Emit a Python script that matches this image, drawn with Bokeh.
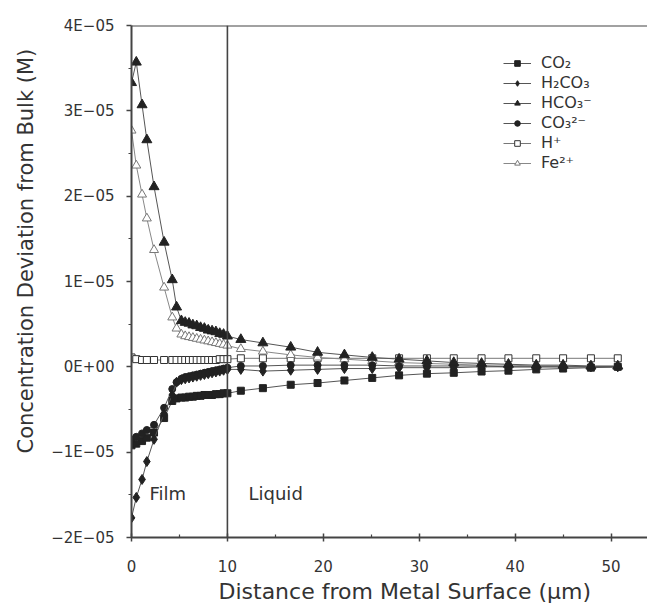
from bokeh.plotting import figure
from bokeh.models import (Range1d, FixedTicker, CustomJSTickFormatter, Span, Label,
                          Legend, LegendItem, Title)
from bokeh.embed import file_html
from bokeh.resources import INLINE

# Distance from the metal surface (um): fine grid inside the film, coarser in the liquid
distance = [0.0, 0.5, 1.1, 1.6, 2.35, 3.4, 4.25, 4.7, 5.2, 5.6, 6.0, 6.4, 6.8, 7.2,
            7.6, 8.0, 8.4, 8.8, 9.2, 9.6, 10.0,
            11.4, 13.7, 16.6, 19.4, 22.2, 25.1, 27.9, 30.8, 33.6, 36.5, 39.3, 42.2,
            45.0, 47.9, 50.7]

# Concentration deviation from bulk (M)
co2 = [-0.92e-5, -0.90e-5, -0.87e-5, -0.83e-5, -0.77e-5, -0.60e-5, -0.40e-5, -0.37e-5,
       -0.36e-5, -0.36e-5, -0.35e-5, -0.35e-5, -0.34e-5, -0.34e-5, -0.33e-5, -0.33e-5,
       -0.33e-5, -0.32e-5, -0.32e-5, -0.31e-5, -0.31e-5,
       -0.28e-5, -0.25e-5, -0.21e-5, -0.19e-5, -0.16e-5, -0.13e-5, -0.10e-5, -0.08e-5,
       -0.07e-5, -0.055e-5, -0.045e-5, -0.03e-5, -0.02e-5, -0.01e-5, 0.0]

h2co3 = [-1.77e-5, -1.53e-5, -1.32e-5, -1.11e-5, -0.85e-5, -0.55e-5, -0.33e-5, -0.18e-5,
         -0.15e-5, -0.14e-5, -0.13e-5, -0.12e-5, -0.11e-5, -0.10e-5, -0.09e-5, -0.08e-5,
         -0.07e-5, -0.06e-5, -0.05e-5, -0.04e-5, -0.03e-5,
         -0.03e-5, -0.05e-5, -0.04e-5, -0.03e-5, -0.02e-5, -0.02e-5, -0.01e-5, -0.01e-5,
         -0.01e-5, 0.0, 0.0, 0.0, 0.0, 0.0, 0.0]

hco3 = [3.33e-5, 3.57e-5, 3.07e-5, 2.66e-5, 2.11e-5, 1.46e-5, 1.02e-5, 0.70e-5,
        0.54e-5, 0.52e-5, 0.51e-5, 0.49e-5, 0.48e-5, 0.46e-5, 0.45e-5, 0.43e-5,
        0.42e-5, 0.41e-5, 0.39e-5, 0.38e-5, 0.36e-5,
        0.32e-5, 0.28e-5, 0.23e-5, 0.17e-5, 0.14e-5, 0.11e-5, 0.09e-5, 0.07e-5,
        0.05e-5, 0.04e-5, 0.03e-5, 0.02e-5, 0.02e-5, 0.01e-5, 0.01e-5]

co3 = [-0.85e-5, -0.82e-5, -0.78e-5, -0.74e-5, -0.68e-5, -0.48e-5, -0.26e-5, -0.18e-5,
       -0.14e-5, -0.12e-5, -0.11e-5, -0.10e-5, -0.09e-5, -0.08e-5, -0.07e-5, -0.06e-5,
       -0.05e-5, -0.04e-5, -0.03e-5, -0.02e-5, -0.01e-5,
       0.01e-5, 0.01e-5, 0.02e-5, 0.02e-5, 0.02e-5, 0.02e-5, 0.01e-5, 0.01e-5,
       0.01e-5, 0.01e-5, 0.0, 0.0, 0.0, 0.0, 0.0]

h_ion = [0.11e-5, 0.09e-5, 0.08e-5, 0.08e-5, 0.08e-5, 0.08e-5, 0.08e-5, 0.08e-5,
         0.08e-5, 0.08e-5, 0.08e-5, 0.08e-5, 0.08e-5, 0.08e-5, 0.08e-5, 0.08e-5,
         0.08e-5, 0.08e-5, 0.09e-5, 0.09e-5, 0.09e-5,
         0.10e-5, 0.10e-5, 0.10e-5, 0.10e-5, 0.10e-5, 0.10e-5, 0.10e-5, 0.10e-5,
         0.10e-5, 0.10e-5, 0.10e-5, 0.10e-5, 0.10e-5, 0.10e-5, 0.10e-5]

fe_ion = [2.77e-5, 2.36e-5, 2.02e-5, 1.74e-5, 1.37e-5, 0.93e-5, 0.58e-5, 0.45e-5,
          0.38e-5, 0.36e-5, 0.35e-5, 0.34e-5, 0.33e-5, 0.32e-5, 0.31e-5, 0.30e-5,
          0.29e-5, 0.28e-5, 0.27e-5, 0.26e-5, 0.25e-5,
          0.21e-5, 0.18e-5, 0.14e-5, 0.11e-5, 0.09e-5, 0.07e-5, 0.05e-5, 0.04e-5,
          0.03e-5, 0.02e-5, 0.02e-5, 0.01e-5, 0.01e-5, 0.0, 0.0]

y_ticks = [-2e-5, -1e-5, 0.0, 1e-5, 2e-5, 3e-5, 4e-5]
y_minor = [-1.5e-5, -0.5e-5, 0.5e-5, 1.5e-5, 2.5e-5, 3.5e-5]
x_ticks = [0, 10, 20, 30, 40, 50]
x_minor = [5, 15, 25, 35, 45]

FONT = "DejaVu Sans"
INK = "#222222"
AXIS = "#444444"
TEXT = "#333333"

p = figure(width=647, height=609, output_backend="svg", toolbar_location=None,
           x_range=Range1d(0, 53.8), y_range=Range1d(-2e-5, 4e-5),
           min_border_left=130, min_border_right=0, min_border_top=25,
           min_border_bottom=72)
p.outline_line_color = None
p.grid.visible = False
p.background_fill_color = "white"
p.border_fill_color = "white"

# frame top edge and film / liquid boundary
p.add_layout(Span(location=4e-5, dimension="width", line_color=AXIS, line_width=2))
p.add_layout(Span(location=10, dimension="height", line_color=AXIS, line_width=1.6))

series = [
    # label, values, marker, size, fill, colour of the connecting line
    ("CO\u2082", co2, "square", 7, INK, "#555555"),
    ("H\u2082CO\u2083", h2co3, "diamond", 10, INK, "#555555"),
    ("HCO\u2083\u207b", hco3, "triangle", 10, INK, "#555555"),
    ("CO\u2083\u00b2\u207b", co3, "circle", 7, INK, "#555555"),
    ("H\u207a", h_ion, "square", 7, "white", "#777777"),
    ("Fe\u00b2\u207a", fe_ion, "triangle", 9, "white", "#888888"),
]

draw_order = [4, 5, 0, 3, 1, 2]
renderers = {}
for i in draw_order:
    label, vals, marker, size, fill, lcol = series[i]
    ln = p.line(distance, vals, line_color=lcol, line_width=1)
    mk_line = INK if fill == INK else ("#333333" if marker == "square" else "#777777")
    sc = p.scatter(distance, vals, marker=marker, size=size, fill_color=fill,
                   line_color=mk_line, line_width=1)
    renderers[i] = [ln, sc]

items = [LegendItem(label=series[i][0], renderers=renderers[i]) for i in range(len(series))]
legend = Legend(items=items, location=(372, 365), orientation="vertical",
                border_line_color=None, background_fill_alpha=0,
                padding=0, margin=0, spacing=1, glyph_width=28, glyph_height=14,
                label_height=14, label_standoff=10,
                label_text_font=FONT, label_text_font_size="16px",
                label_text_color=TEXT)
p.add_layout(legend)

p.add_layout(Label(x=1.87, y=-1.49e-5, text="Film", text_font=FONT,
                   text_font_size="18px", text_color=TEXT, text_baseline="middle"))
p.add_layout(Label(x=12.2, y=-1.49e-5, text="Liquid", text_font=FONT,
                   text_font_size="18px", text_color=TEXT, text_baseline="middle"))

# axes
for ax in (p.xaxis[0], p.yaxis[0]):
    ax.axis_line_color = AXIS
    ax.axis_line_width = 2
    ax.major_tick_line_color = AXIS
    ax.minor_tick_line_color = AXIS
    ax.major_tick_line_width = 1.5
    ax.minor_tick_line_width = 1.2
    ax.major_label_text_font = FONT
    ax.major_label_text_font_size = "15px"
    ax.major_label_text_color = TEXT

p.xaxis.ticker = FixedTicker(ticks=x_ticks, minor_ticks=x_minor)
p.xaxis.major_tick_in = 4
p.xaxis.major_tick_out = 4
p.xaxis.minor_tick_in = 3
p.xaxis.minor_tick_out = 0
p.xaxis.major_label_standoff = 18

p.yaxis.ticker = FixedTicker(ticks=y_ticks, minor_ticks=y_minor)
p.yaxis.major_tick_in = 0
p.yaxis.major_tick_out = 5
p.yaxis.minor_tick_in = 0
p.yaxis.minor_tick_out = 3
p.yaxis.major_label_standoff = 12
p.yaxis.formatter = CustomJSTickFormatter(code="""
    const r = Math.round(tick / 1e-5);
    if (r === 0) { return "0E+00"; }
    return (r < 0 ? "\u2212" : "") + Math.abs(r) + "E\u221205";
""")

# axis titles as side-panel titles, so they can sit off-centre like the printed figure
p.add_layout(Title(text="Concentration Deviation from Bulk (M)", align="left",
                   offset=84, standoff=22, text_font=FONT, text_font_size="21px",
                   text_font_style="normal", text_color=TEXT), "left")
p.add_layout(Title(text="Distance from Metal Surface (\u00b5m)", align="left",
                   offset=87, standoff=4, text_font=FONT, text_font_size="22px",
                   text_font_style="normal", text_color=TEXT), "below")

open("out.html", "w").write(file_html(p, INLINE))
